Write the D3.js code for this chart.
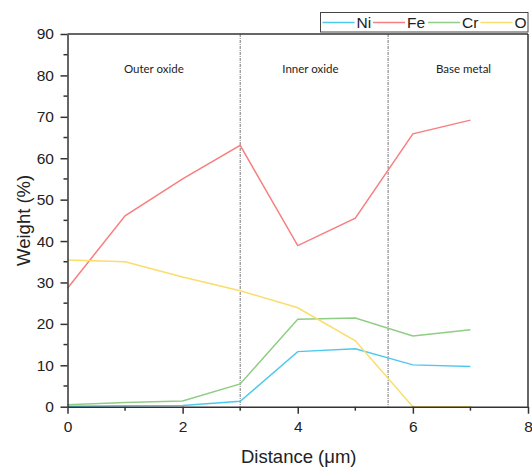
<!DOCTYPE html>
<html><head><meta charset="utf-8">
<script src="https://cdn.jsdelivr.net/npm/d3@7"></script>
<style>body{margin:0;background:#fff}svg{display:block}</style>
</head><body>
<svg id="c" width="532" height="467"></svg>
<script>
const distance = [0, 1, 2, 3, 4, 5, 6, 7];
const ni = [0.1, 0.2, 0.3, 1.3, 13.3, 14.0, 10.1, 9.7];
const fe = [28.6, 46.1, 55.0, 63.1, 38.9, 45.5, 65.9, 69.2];
const cr = [0.5, 1.0, 1.4, 5.5, 21.1, 21.4, 17.1, 18.6];
const ox = [35.4, 35.0, 31.3, 28.0, 23.9, 15.9, 0, 0];
const seriesNames = ["Ni", "Fe", "Cr", "O"];
const seriesColors = ["#4fc8ee", "#f77f7f", "#8fcd84", "#fadd6b"];
const xTicks = [0, 2, 4, 6, 8];
const yTicks = [0, 10, 20, 30, 40, 50, 60, 70, 80, 90];
const boundaries = [3, 5.57];
const regionLabels = ["Outer oxide", "Inner oxide", "Base metal"];
const regionX = [1.5, 4.22, 6.88];
const regionY = 80.6;

const svg = d3.select("#c");
const L = 67.5, R = 528, T = 34, B = 406.7;
const x = d3.scaleLinear().domain([0, 8]).range([L, R]);
const y = d3.scaleLinear().domain([0, 90]).range([B, T]);
const axisColor = "#333";

// boundaries
svg.selectAll("line.bd").data(boundaries).enter().append("line")
  .attr("x1", d => x(d)).attr("x2", d => x(d)).attr("y1", T).attr("y2", B)
  .attr("stroke", "#777").attr("stroke-width", 1).attr("stroke-dasharray", "3,1,1,1");

// region labels
svg.selectAll("text.rg").data(regionLabels).enter().append("text")
  .attr("x", (d, i) => x(regionX[i])).attr("y", y(regionY))
  .attr("text-anchor", "middle").attr("font-family", "Lato, 'Open Sans', sans-serif")
  .attr("font-size", 11.5).attr("fill", "#222").text(d => d);

// series
const all = [ni, fe, cr, ox];
const line = d3.line().x((d, i) => x(distance[i])).y(d => y(d));
all.forEach((s, k) => {
  svg.append("path").datum(s).attr("d", line).attr("fill", "none")
    .attr("stroke", seriesColors[k]).attr("stroke-width", 1.5);
});

// frame
svg.append("line").attr("x1", L).attr("x2", R).attr("y1", T).attr("y2", T).attr("stroke", axisColor).attr("stroke-width", 1.5);
svg.append("line").attr("x1", R).attr("x2", R).attr("y1", T).attr("y2", B).attr("stroke", axisColor).attr("stroke-width", 1.5);

// axes
const fontF = "'Liberation Sans', Arial, sans-serif";
const xAxis = svg.append("g").attr("transform", `translate(0,${B})`)
  .call(d3.axisBottom(x).tickValues(xTicks).tickFormat(d3.format("d")).tickSize(7).tickSizeOuter(0));
const yAxis = svg.append("g").attr("transform", `translate(${L},0)`)
  .call(d3.axisLeft(y).tickValues(yTicks).tickFormat(d3.format("d")).tickSize(7).tickSizeOuter(0));
[xAxis, yAxis].forEach(g => {
  g.select(".domain").attr("stroke", axisColor).attr("stroke-width", 1.5);
  g.selectAll(".tick line").attr("stroke", axisColor).attr("stroke-width", 1.5);
  g.selectAll(".tick text").attr("font-family", fontF).attr("font-size", 15.5).attr("fill", "#222");
});
xAxis.selectAll(".tick text").attr("dy", "0.98em");
yAxis.selectAll(".tick text").attr("dx", "-0.23em");

// minor ticks
const xMinor = d3.range(1, 8, 2);
svg.selectAll("line.xm").data(xMinor).enter().append("line")
  .attr("x1", d => x(d)).attr("x2", d => x(d)).attr("y1", B).attr("y2", B + 4)
  .attr("stroke", axisColor).attr("stroke-width", 1.5);
const yMinor = d3.range(5, 90, 10);
svg.selectAll("line.ym").data(yMinor).enter().append("line")
  .attr("x1", L - 4).attr("x2", L).attr("y1", d => y(d)).attr("y2", d => y(d))
  .attr("stroke", axisColor).attr("stroke-width", 1.5);

// axis titles
svg.append("text").attr("x", x(4) + 1).attr("y", 463).attr("text-anchor", "middle")
  .attr("font-family", fontF).attr("font-size", 18.5).attr("fill", "#222").text("Distance (\u03bcm)");
svg.append("text").attr("transform", `translate(29.5,${(T + B) / 2}) rotate(-90)`)
  .attr("text-anchor", "middle").attr("font-family", fontF).attr("font-size", 18.5).attr("fill", "#222").text("Weight (%)");

// legend
const lg = svg.append("g");
lg.append("rect").attr("x", 320.5).attr("y", 12.5).attr("width", 207.5).attr("height", 19.5)
  .attr("fill", "#fff").attr("stroke", "#444").attr("stroke-width", 1);
const lx = [322.5, 373, 428, 480.5];
seriesNames.forEach((n, k) => {
  lg.append("line").attr("x1", lx[k]).attr("x2", lx[k] + 32).attr("y1", 22.5).attr("y2", 22.5)
    .attr("stroke", seriesColors[k]).attr("stroke-width", 1.5);
  lg.append("text").attr("x", lx[k] + 34).attr("y", 28).attr("font-family", fontF)
    .attr("font-size", 15.5).attr("fill", "#222").text(n);
});
</script>
</body></html>
